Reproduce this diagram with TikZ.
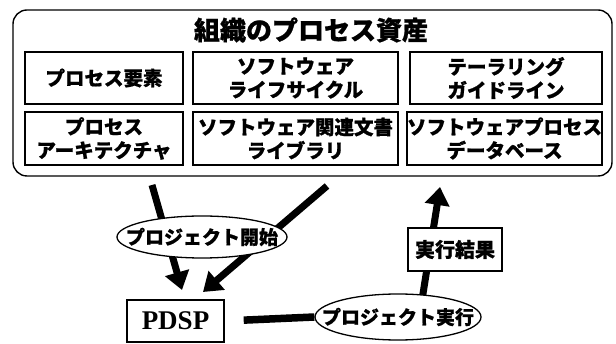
\documentclass[tikz,border=0pt]{standalone}
\usepackage{fontspec}
\setmainfont{Noto Sans CJK JP}[BoldFeatures={FakeBold=0.8}]
\newfontfamily\tms{Liberation Serif}
\usetikzlibrary{arrows.meta,shapes.geometric}
\begin{document}
\begin{tikzpicture}[x=1pt,y=-1pt,
  assetbox/.style={draw,line width=1.4pt,inner sep=0pt,align=center,
    font=\bfseries\fontsize{19.5}{23.5}\selectfont},
  oval/.style={draw,ellipse,line width=1.3pt,fill=white,inner sep=0pt,
    font=\bfseries\fontsize{19}{22}\selectfont},
  bigarrow/.style={line width=7pt,-{Triangle[length=18pt,width=24pt]}},
  plainbox/.style={draw,line width=1.4pt,fill=white,inner sep=0pt}
]
\useasboundingbox (0,0) rectangle (616,344);

% outer frame
\node[draw,line width=1.4pt,rounded corners=14pt,minimum width=599pt,
  minimum height=166pt,inner sep=0pt] (org) at (312.5,93) {};
\node[font=\bfseries\fontsize{26}{30}\selectfont] (title) at (311,30) {組織のプロセス資産};

\node[assetbox,minimum width=158pt,minimum height=52pt] (b11) at (104,78) {プロセス要素};
\node[assetbox,minimum width=205pt,minimum height=52pt] (b12) at (295.5,78) {ソフトウェア\\ライフサイクル};
\node[assetbox,minimum width=192pt,minimum height=52pt] (b13) at (506,78) {テーラリング\\ガイドライン};
\node[assetbox,minimum width=158pt,minimum height=53pt] (b21) at (104,138.5) {プロセス\\アーキテクチャ};
\node[assetbox,minimum width=205pt,minimum height=53pt] (b22) at (295.5,138.5) {ソフトウェア関連文書\\ライブラリ};
\node[assetbox,minimum width=195pt,minimum height=53pt] (b23) at (504.5,138.5) {ソフトウェアプロセス\\データベース};

% arrow end points
\coordinate (a0) at (152,185);
\coordinate (a1) at (182,290);
\coordinate (c0) at (327,186);
\coordinate (c1) at (203,292);
\coordinate (r0) at (422,300);
\coordinate (r1) at (440,187);

\draw[bigarrow] (a0) -- (a1);
\draw[bigarrow] (c0) -- (c1);
\draw[bigarrow] (r0) -- (r1);

\node[oval,minimum width=170pt,minimum height=42pt] (start) at (202,237)
  {\makebox[0pt]{プロジェクト開始}};
\node[oval,minimum width=166pt,minimum height=46pt] (exec) at (398,317)
  {\makebox[0pt]{プロジェクト実行}};

\node[plainbox,minimum width=97pt,minimum height=42pt,
  font=\tms\bfseries\fontsize{27}{30}\selectfont] (pdsp) at (175.5,321) {PDSP};
\node[plainbox,minimum width=94pt,minimum height=43pt,
  font=\bfseries\fontsize{20}{24}\selectfont] (res) at (455,249.5) {実行結果};

\draw[line width=7.5pt,shorten <=19pt] (pdsp.east) -- (exec.west);
\end{tikzpicture}
\end{document}
